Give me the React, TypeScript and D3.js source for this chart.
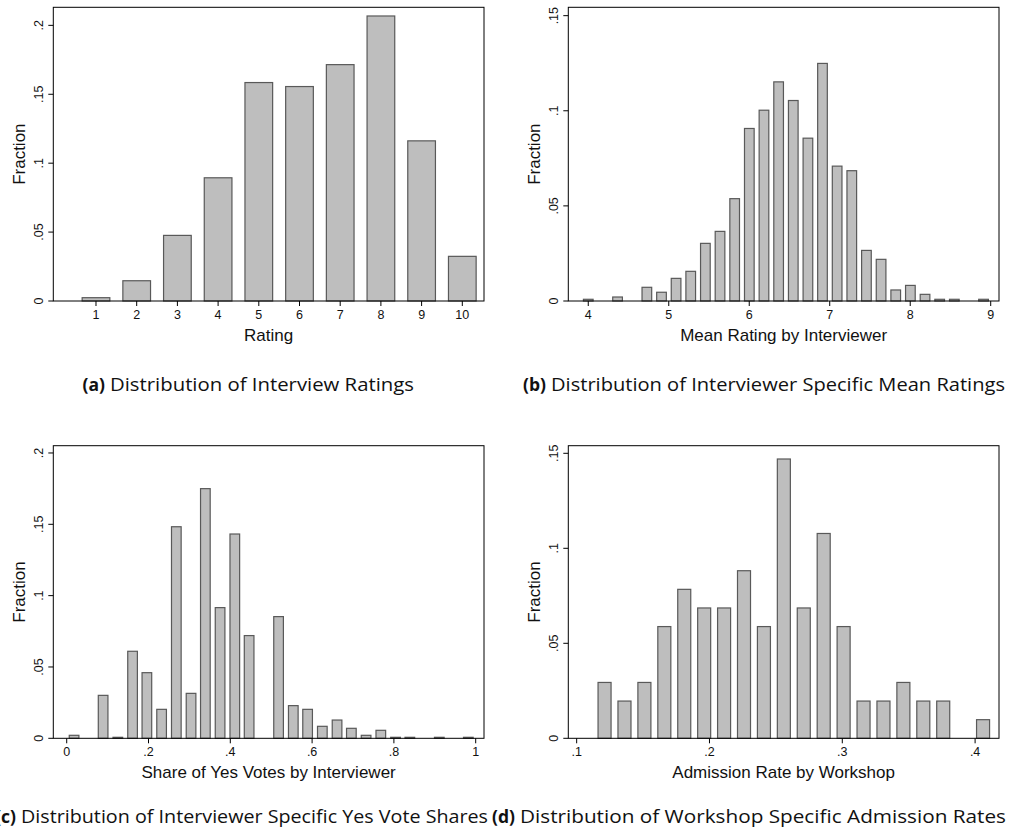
import React from "react";
import * as d3 from "d3";

// (a) Interview ratings, 1-10
const ratingValues = [1, 2, 3, 4, 5, 6, 7, 8, 9, 10];
const ratingFractions = [0.0024, 0.0147, 0.0476, 0.0894, 0.1585, 0.1556, 0.1715, 0.2068, 0.1162, 0.0324];

// (b) Interviewer-specific mean ratings (bin centres)
const meanRatingBins = [
  4.0, 4.364, 4.728, 4.91, 5.091, 5.273, 5.455, 5.637, 5.819, 6.001, 6.183, 6.365, 6.547,
  6.729, 6.91, 7.092, 7.274, 7.456, 7.638, 7.82, 8.002, 8.184, 8.366, 8.548, 8.911,
];
const meanRatingFractions = [
  0.0009, 0.0021, 0.0072, 0.0046, 0.0119, 0.0156, 0.0303, 0.0366, 0.0538, 0.0907, 0.1003,
  0.1152, 0.1054, 0.0856, 0.1249, 0.0709, 0.0685, 0.0266, 0.0219, 0.0058, 0.0082, 0.0035,
  0.0009, 0.0009, 0.0009,
];

// (c) Interviewer-specific yes vote shares (bin centres)
const yesShareBins = [
  0.018, 0.089, 0.125, 0.161, 0.196, 0.232, 0.268, 0.304, 0.339, 0.375, 0.411, 0.446,
  0.518, 0.554, 0.589, 0.625, 0.661, 0.696, 0.732, 0.768, 0.804, 0.839, 0.911, 0.982,
];
const yesShareFractions = [
  0.0021, 0.0301, 0.0007, 0.061, 0.046, 0.0203, 0.1483, 0.0315, 0.175, 0.0916, 0.1432,
  0.072, 0.0853, 0.0229, 0.0203, 0.0084, 0.0128, 0.007, 0.0021, 0.0056, 0.0007, 0.0007,
  0.0007, 0.0007,
];

// (d) Workshop-specific admission rates (bin centres)
const admissionBins = [
  0.121, 0.136, 0.151, 0.166, 0.181, 0.196, 0.211, 0.226, 0.241, 0.256, 0.271, 0.286,
  0.301, 0.316, 0.331, 0.346, 0.361, 0.376, 0.406,
];
const admissionFractions = [
  0.0294, 0.0196, 0.0294, 0.0588, 0.0784, 0.0686, 0.0686, 0.0882, 0.0588, 0.147, 0.0686,
  0.1078, 0.0588, 0.0196, 0.0196, 0.0294, 0.0196, 0.0196, 0.0098,
];

const ratingTicks = [1, 2, 3, 4, 5, 6, 7, 8, 9, 10];
const meanRatingTicks = [4, 5, 6, 7, 8, 9];
const yesShareTicks = [0, 0.2, 0.4, 0.6, 0.8, 1];
const admissionTicks = [0.1, 0.2, 0.3, 0.4];
const fractionTicksWide = [0, 0.05, 0.1, 0.15, 0.2];
const fractionTicksNarrow = [0, 0.05, 0.1, 0.15];

// Stata-style tick labels: drop the leading zero of decimals
const fmtTick = (v: number) => {
  if (v === 0) return "0";
  if (v === 1) return "1";
  const s = d3.format("")(+v.toFixed(4));
  return s.replace(/^0\./, ".");
};

type PanelProps = {
  left: number;
  right: number;
  top: number;
  bottom: number;
  xDomain: [number, number];
  yDomain: [number, number];
  bins: number[];
  values: number[];
  barWidth: number;
  xTicks: number[];
  yTicks: number[];
  xTitle: string;
  yTitleX: number;
};

const AXIS_FONT = "'Liberation Sans', Arial, Helvetica, sans-serif";

function Panel(p: PanelProps) {
  const x = d3.scaleLinear().domain(p.xDomain).range([p.left, p.right]);
  const y = d3.scaleLinear().domain(p.yDomain).range([p.bottom, p.top]);
  const midY = (p.top + p.bottom) / 2;
  return (
    <g>
      {p.bins.map((b, i) => {
        const x0 = x(b - p.barWidth / 2);
        const x1 = x(b + p.barWidth / 2);
        const yv = y(p.values[i]);
        return (
          <rect
            key={i}
            x={x0}
            y={yv}
            width={x1 - x0}
            height={y(0) - yv}
            fill="#bebebe"
            stroke="#595959"
            strokeWidth={1.2}
          />
        );
      })}
      <rect
        x={p.left}
        y={p.top}
        width={p.right - p.left}
        height={p.bottom - p.top}
        fill="none"
        stroke="#000"
        strokeWidth={1}
      />
      {p.xTicks.map((t) => (
        <g key={"x" + t}>
          <line x1={x(t)} x2={x(t)} y1={p.bottom} y2={p.bottom + 5} stroke="#000" strokeWidth={1} />
          <text
            x={x(t)}
            y={p.bottom + 18}
            textAnchor="middle"
            fontFamily={AXIS_FONT}
            fontSize={12.5}
            fill="#111"
          >
            {fmtTick(t)}
          </text>
        </g>
      ))}
      {p.yTicks.map((t) => (
        <g key={"y" + t}>
          <line x1={p.left - 5} x2={p.left} y1={y(t)} y2={y(t)} stroke="#000" strokeWidth={1} />
          <text
            transform={`translate(${p.left - 10},${y(t)}) rotate(-90)`}
            textAnchor="middle"
            fontFamily={AXIS_FONT}
            fontSize={12.5}
            fill="#111"
          >
            {fmtTick(t)}
          </text>
        </g>
      ))}
      <text
        x={(p.left + p.right) / 2}
        y={p.bottom + 39.5}
        textAnchor="middle"
        fontFamily={AXIS_FONT}
        fontSize={17}
        fill="#111"
      >
        {p.xTitle}
      </text>
      <text
        transform={`translate(${p.yTitleX},${midY}) rotate(-90)`}
        textAnchor="middle"
        fontFamily={AXIS_FONT}
        fontSize={17}
        fill="#111"
      >
        Fraction
      </text>
    </g>
  );
}

const CAPTION_FONT = "'Open Sans', 'Noto Sans', sans-serif";

// Subfigure caption: bold label followed by the description text,
// which runs from `start` to `end`.
function Caption(props: { start: number; end: number; y: number; label: string; text: string }) {
  return (
    <g fontFamily={CAPTION_FONT} fontSize={17.5} fill="#111">
      <text x={props.start - 5} y={props.y} textAnchor="end" fontWeight="bold">
        {props.label}
      </text>
      <text
        x={props.start}
        y={props.y}
        textLength={props.end - props.start}
        lengthAdjust="spacingAndGlyphs"
      >
        {props.text}
      </text>
    </g>
  );
}

export default function App() {
  return (
    <div style={{ position: "absolute", left: 0, top: 0 }}>
      <svg width={1018} height={839} style={{ display: "block", background: "#fff" }}>
        <Panel
          left={53.3}
          right={484}
          top={7.3}
          bottom={301}
          xDomain={[-0.049, 10.533]}
          yDomain={[0, 0.2131]}
          bins={ratingValues}
          values={ratingFractions}
          barWidth={0.68}
          xTicks={ratingTicks}
          yTicks={fractionTicksWide}
          xTitle="Rating"
          yTitleX={25}
        />
        <Panel
          left={568.3}
          right={999}
          top={7.3}
          bottom={301}
          xDomain={[3.752, 9.103]}
          yDomain={[0, 0.1544]}
          bins={meanRatingBins}
          values={meanRatingFractions}
          barWidth={0.12}
          xTicks={meanRatingTicks}
          yTicks={fractionTicksNarrow}
          xTitle="Mean Rating by Interviewer"
          yTitleX={539.5}
        />
        <Panel
          left={53.3}
          right={484}
          top={445.7}
          bottom={738.3}
          xDomain={[-0.0328, 1.0203]}
          yDomain={[0, 0.2051]}
          bins={yesShareBins}
          values={yesShareFractions}
          barWidth={0.0236}
          xTicks={yesShareTicks}
          yTicks={fractionTicksWide}
          xTitle="Share of Yes Votes by Interviewer"
          yTitleX={25}
        />
        <Panel
          left={568.3}
          right={999}
          top={445.7}
          bottom={738.3}
          xDomain={[0.0937, 0.418]}
          yDomain={[0, 0.154]}
          bins={admissionBins}
          values={admissionFractions}
          barWidth={0.0098}
          xTicks={admissionTicks}
          yTicks={fractionTicksNarrow}
          xTitle="Admission Rate by Workshop"
          yTitleX={539.5}
        />
        <Caption start={110} end={414} y={391} label="(a)" text="Distribution of Interview Ratings" />
        <Caption
          start={551}
          end={1005}
          y={391}
          label="(b)"
          text="Distribution of Interviewer Specific Mean Ratings"
        />
        <Caption
          start={21}
          end={488}
          y={823}
          label="(c)"
          text="Distribution of Interviewer Specific Yes Vote Shares"
        />
        <Caption
          start={520}
          end={1006}
          y={823}
          label="(d)"
          text="Distribution of Workshop Specific Admission Rates"
        />
      </svg>
    </div>
  );
}
